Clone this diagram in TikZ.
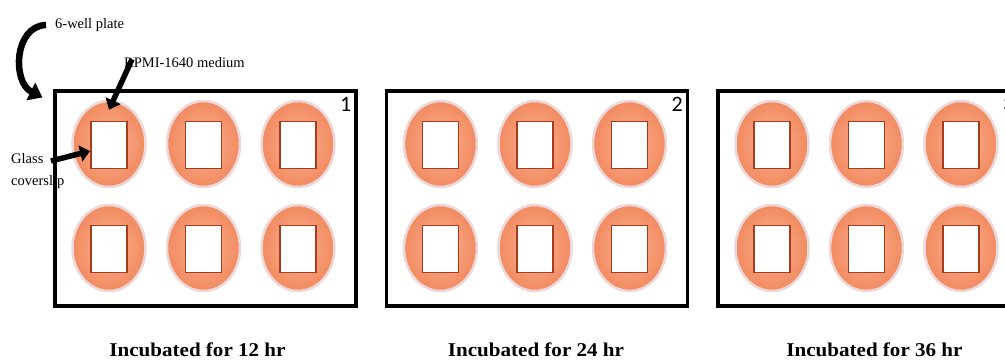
\documentclass[tikz,border=0pt]{standalone}
\usepackage{fontspec}
\setmainfont{Liberation Serif}
\newfontfamily\numfont{Carlito}
\newfontfamily\timefont{Liberation Serif}[FakeStretch=1.08]
\usepackage{tikz}
\usetikzlibrary{arrows.meta,shapes.geometric,positioning,shadows,calc}
\usepackage{xcolor}
\definecolor{wellorange}{RGB}{242,138,96}
\definecolor{welllight}{RGB}{250,180,148}
\definecolor{wellhalo}{RGB}{236,216,216}
\definecolor{slipred}{RGB}{165,60,30}
\definecolor{plateshadow}{RGB}{80,25,25}
\tikzstyle{arrow} = [line width=5.5pt,-{Triangle[length=10pt,width=16pt]},color=black]
\tikzstyle{curvearrow} = [line width=6.5pt,-{Triangle[length=13pt,width=19pt]},color=black]
\tikzstyle{platebox} = [rectangle, draw=black, line width=3.2pt, minimum width=301pt, minimum height=215pt, fill=white, drop shadow={shadow xshift=1.5pt, shadow yshift=-2pt, fill=plateshadow, opacity=0.7}]
\tikzstyle{wellnode} = [ellipse, minimum width=73pt, minimum height=86pt, draw=wellhalo, line width=2.5pt, inner color=welllight, outer color=wellorange]
\tikzstyle{slipbox} = [rectangle, draw=slipred, line width=1.8pt, fill=white, minimum width=36pt, minimum height=47pt, inner sep=0pt]
\tikzstyle{smalllabel} = [font=\fontsize{14.5}{17}\selectfont, inner sep=0pt]
\tikzstyle{timelabel} = [font=\fontsize{19.5}{22}\selectfont\timefont\bfseries, inner sep=0pt, anchor=base]

\begin{document}
\begin{tikzpicture}[x=1pt,y=-1pt]
\useasboundingbox (0,0) rectangle (1005,361);
\clip (0,0) rectangle (1005,361);

% Plates with wells and coverslips
\foreach \p/\hr in {1/12,2/24,3/36} {
  \node[platebox] (plate\p) at ({205.5+331.5*(\p-1)},198.5) {};
  \node[font=\fontsize{22}{24}\selectfont\numfont, inner sep=0pt] (num\p) at ($(plate\p.north east)+(-12,15)$) {\p};
  \foreach \c/\dx in {1/-96.5,2/-2,3/92.5} {
    \foreach \r/\dy in {1/-54.5,2/49.5} {
      \node[wellnode] (p\p w\r\c) at ($(plate\p.center)+(\dx,\dy)$) {};
      \node[slipbox] (p\p s\r\c) at ($(p\p w\r\c.center)+(0,1)$) {};
    }
  }
  \node[timelabel] (time\p) at ($(plate\p.south)+({-8+7*(\p-1)},49)$) {Incubated for \hr{} hr};
}

% Labels
\node[smalllabel, anchor=west] (wplabel) at (55,25) {6-well plate};
\node[smalllabel, anchor=west] (rpmi) at (124,63) {RPMI-1640 medium};
\node[smalllabel, anchor=west, align=left] (glass) at (11,171) {Glass\\[5pt]coverslip};

\coordinate (platetip) at ($(plate1.north west)+(-11,8)$);
\coordinate (glassstart) at (51,161);

% Arrows
\draw[curvearrow] ([xshift=-9pt]wplabel.west) .. controls (14,26) and (12,82) .. (platetip);
\draw[arrow] ([xshift=8pt,yshift=9pt]rpmi.south west) -- ([yshift=-10pt]p1w11.north);
\draw[arrow] (glassstart) -- ([yshift=-6pt]p1s11.west);
\end{tikzpicture}
\end{document}
